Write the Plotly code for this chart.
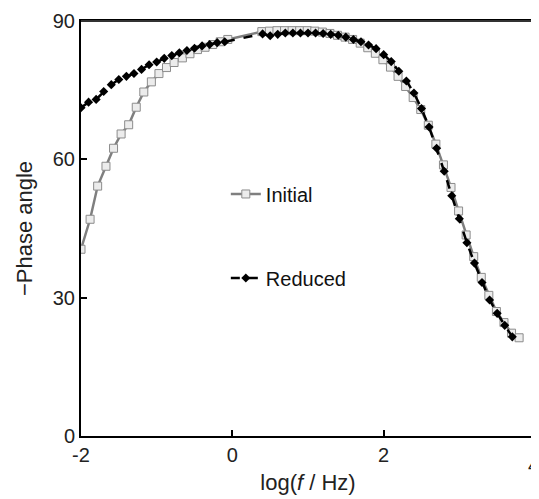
import plotly.graph_objects as go

# log(f / Hz) and -phase angle (deg)
initial_x = [-2.00, -1.88, -1.78, -1.67, -1.57, -1.47, -1.37, -1.27, -1.17, -1.07,
             -0.97, -0.87, -0.77, -0.66, -0.56, -0.46, -0.36, -0.26, -0.16, -0.06,
             0.39, 0.49, 0.59, 0.69, 0.79, 0.89, 0.99, 1.09, 1.19, 1.29,
             1.39, 1.49, 1.59, 1.69, 1.79, 1.89, 1.99, 2.09, 2.19, 2.29,
             2.39, 2.49, 2.59, 2.69, 2.79, 2.89, 2.99, 3.09, 3.19, 3.29,
             3.39, 3.49, 3.59, 3.69, 3.79]
initial_y = [40.5, 47.0, 54.2, 58.5, 62.4, 65.5, 67.5, 71.3, 74.6, 76.8,
             78.6, 79.9, 81.0, 82.0, 82.9, 83.8, 84.3, 84.9, 85.5, 86.0,
             87.7, 87.8, 87.9, 87.9, 87.9, 87.9, 87.9, 87.8, 87.6, 87.3,
             86.9, 86.5, 86.0, 85.2, 84.2, 83.0, 81.6, 80.0, 78.0, 75.8,
             73.4, 70.8, 67.4, 63.3, 58.8, 53.9, 48.8, 43.6, 38.9, 34.4,
             30.5, 27.0, 24.6, 22.3, 21.3]

reduced_x = [-2.0, -1.9, -1.8, -1.7, -1.6, -1.5, -1.4, -1.3, -1.2, -1.1,
             -1.0, -0.9, -0.8, -0.7, -0.6, -0.5, -0.4, -0.3, -0.2, -0.1,
             0.4, 0.5, 0.6, 0.7, 0.8, 0.9, 1.0, 1.1, 1.2, 1.3,
             1.4, 1.5, 1.6, 1.7, 1.8, 1.9, 2.0, 2.1, 2.2, 2.3,
             2.4, 2.5, 2.6, 2.7, 2.8, 2.9, 3.0, 3.1, 3.2, 3.3,
             3.4, 3.5, 3.6, 3.7]
reduced_y = [71.2, 72.4, 73.0, 74.7, 76.2, 77.3, 78.0, 78.6, 79.5, 80.5,
             81.1, 81.9, 82.5, 83.1, 83.6, 84.1, 84.6, 84.9, 85.3, 85.5,
             87.2, 86.8, 87.1, 87.4, 87.4, 87.4, 87.4, 87.4, 87.3, 87.1,
             86.9, 86.5, 86.0, 85.5, 84.8, 84.0, 82.7, 81.2, 79.1, 77.0,
             74.4, 71.0, 67.0, 62.4, 57.4, 52.1, 47.1, 41.9, 37.5, 33.3,
             29.5, 26.6, 24.0, 21.5]

x_ticks = [-2, 0, 2, 4]
x_ticktext = ["-2", "0", "2", "4"]
y_ticks = [0, 30, 60, 90]

FONT = "Liberation Sans, Arial, sans-serif"

fig = go.Figure()
fig.add_trace(go.Scatter(
    x=initial_x, y=initial_y, name="Initial", mode="lines+markers",
    line=dict(color="#7f7f7f", width=2.5),
    marker=dict(symbol="square", size=8, color="#ececec",
                line=dict(color="#8c8c8c", width=1)),
    legendgroup="initial",
))
fig.add_trace(go.Scatter(
    x=reduced_x, y=reduced_y, name="Reduced", mode="lines+markers",
    line=dict(color="black", width=2.5, dash="dash"),
    marker=dict(symbol="diamond", size=7, color="black"),
    legendgroup="reduced",
))

# top and right edges of the box (drawn a few ways so at least one shows)
fig.add_shape(type="line", xref="paper", yref="paper", x0=0, y0=1, x1=1, y1=1,
              line=dict(color="#333333", width=2), layer="above")
fig.add_shape(type="line", xref="paper", yref="paper", x0=1, y0=0, x1=1, y1=1,
              line=dict(color="#4d4d4d", width=2), layer="above")

# the last x label sits on the right edge of the page and plotly would hide it,
# so it is written as an annotation (the browser window cuts it like the original)
fig.add_annotation(x=x_ticks[-1], y=0, xref="x", yref="paper", yanchor="top",
                   yshift=-16, xshift=-2, text=x_ticktext[-1], showarrow=False,
                   font=dict(family=FONT, size=20, color="#222"))

# the page body has an 8px margin, so the figure is a bit smaller than the window
fig.update_layout(
    width=531, height=491,
    margin=dict(l=73, r=4, t=13, b=63),
    plot_bgcolor="white", paper_bgcolor="white",
    font=dict(family=FONT, size=18, color="#222"),
    showlegend=True,
    legend=dict(x=0.319, y=0.482, xanchor="left", yanchor="middle",
                font=dict(family=FONT, size=20, color="#111"),
                bgcolor="rgba(0,0,0,0)", itemwidth=30,
                traceorder="grouped", tracegroupgap=55),
    xaxis=dict(
        range=[-2, 4], tickvals=x_ticks[:-1], ticktext=x_ticktext[:-1],
        showgrid=False, zeroline=False, showline=True, linecolor="black",
        linewidth=2, mirror=True,
        ticks="inside", ticklen=6, tickwidth=1.5, tickcolor="black",
        title=dict(text="log(<i>f</i> / Hz)", standoff=10), automargin=False,
        tickfont=dict(size=20),
    ),
    yaxis=dict(
        range=[0, 90], tickvals=y_ticks, ticksuffix="\u2002",
        showgrid=False, zeroline=False, showline=True, linecolor="black",
        linewidth=2, mirror=True,
        ticks="inside", ticklen=6, tickwidth=1.5, tickcolor="black",
        title=dict(text="\u2212Phase angle", standoff=14), automargin=False,
        tickfont=dict(size=20),
    ),
    xaxis2=dict(
        overlaying="x", side="top", anchor="y", range=[-2, 4],
        showline=True, linecolor="#333333", linewidth=2,
        showticklabels=False, ticks="", showgrid=False, zeroline=False,
    ),
    yaxis2=dict(
        overlaying="y", side="right", anchor="x", range=[0, 90],
        showline=True, linecolor="#4d4d4d", linewidth=2,
        showticklabels=False, ticks="", showgrid=False, zeroline=False,
    ),
)

fig.write_html("out.html")
